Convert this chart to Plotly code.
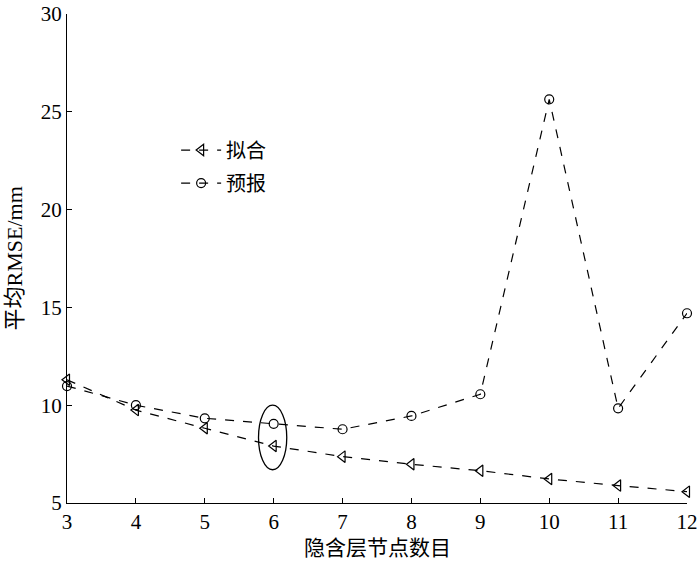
import plotly.graph_objects as go

nodes = [3, 4, 5, 6, 7, 8, 9, 10, 11, 12]
fit_rmse = [11.3, 9.75, 8.82, 7.91, 7.37, 6.98, 6.65, 6.23, 5.89, 5.58]
forecast_rmse = [10.98, 10.0, 9.33, 9.05, 8.77, 9.45, 10.56, 25.64, 9.84, 14.7]
series_names = ["拟合", "预报"]
x_title = "隐含层节点数目"
y_title = "平均RMSE/mm"

FONT = "Times New Roman, Liberation Serif, Noto Sans CJK SC, serif"

fig = go.Figure()
fig.add_trace(go.Scatter(
    x=nodes, y=fit_rmse, name=series_names[0], mode="lines+markers",
    line=dict(color="black", width=1.2, dash="dash"),
    marker=dict(symbol="triangle-left-open", size=10, color="black", line=dict(width=1.2)),
    legendgroup="a", cliponaxis=False,
))
fig.add_trace(go.Scatter(
    x=nodes, y=forecast_rmse, name=series_names[1], mode="lines+markers",
    line=dict(color="black", width=1.2, dash="dash"),
    marker=dict(symbol="circle-open", size=9, color="black", line=dict(width=1.2)),
    legendgroup="b", cliponaxis=False,
))

# highlight ellipse around node 6
fig.add_shape(type="circle", xref="x", yref="y",
              x0=5.78, x1=6.19, y0=6.7, y1=10.0,
              line=dict(color="black", width=1.3))

axis_common = dict(
    showline=True, linecolor="black", linewidth=1.3,
    ticks="inside", ticklen=5, tickcolor="black", tickwidth=1.3,
    showgrid=False, zeroline=False, mirror=False, automargin=False,
    ticklabeloverflow="allow",
    tickfont=dict(family=FONT, size=21, color="black"),
)
fig.update_xaxes(range=[3, 12], tick0=3, dtick=1, **axis_common)
fig.update_yaxes(range=[5, 30], tick0=5, dtick=5, **axis_common)

fig.add_annotation(text=x_title, xref="paper", yref="paper", x=0.5, y=0,
                   yshift=-45, xanchor="center", yanchor="middle", showarrow=False,
                   font=dict(family=FONT, size=21, color="black"))
fig.add_annotation(text=y_title, xref="paper", yref="paper", x=0, y=0.5,
                   xshift=-53, textangle=-90, xanchor="center", yanchor="middle",
                   showarrow=False, font=dict(family=FONT, size=22, color="black"))

fig.update_layout(
    width=700, height=561,
    margin=dict(l=67, r=13, t=14, b=58, autoexpand=False),
    paper_bgcolor="white", plot_bgcolor="white",
    showlegend=True,
    legend=dict(x=0.176, y=0.688, xanchor="left", yanchor="middle",
                bgcolor="rgba(0,0,0,0)", tracegroupgap=4, itemwidth=40,
                font=dict(family=FONT, size=20, color="black")),
)

# remove the default page margin so the 700x561 figure fills the window exactly
fig.write_html("out.html", config={"displayModeBar": False},
               post_script="document.body.style.margin='0';")
